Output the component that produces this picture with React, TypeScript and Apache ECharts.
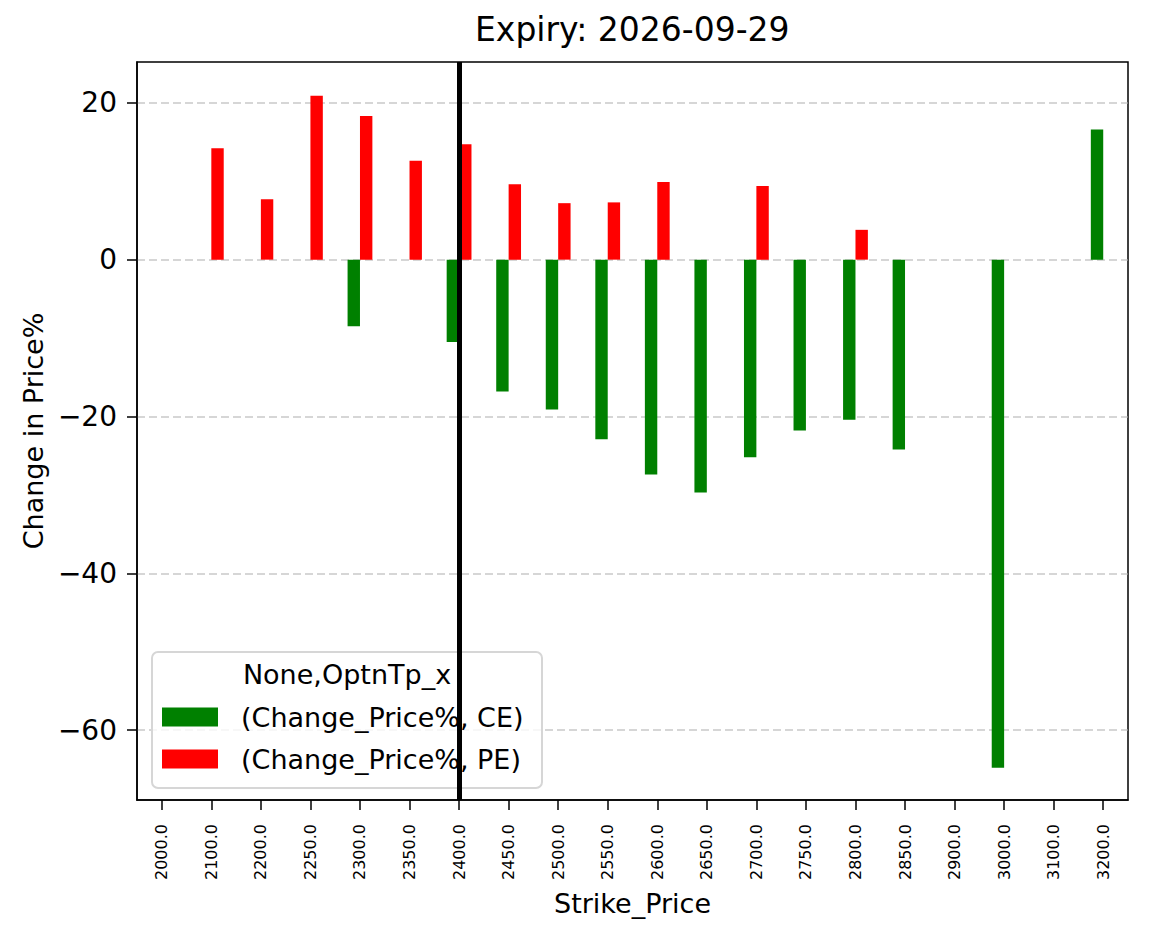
import React, { useEffect, useRef } from 'react';
import * as echarts from 'echarts';

// 行权价（类目）
const strikes = [
  '2000.0', '2100.0', '2200.0', '2250.0', '2300.0', '2350.0', '2400.0', '2450.0', '2500.0', '2550.0',
  '2600.0', '2650.0', '2700.0', '2750.0', '2800.0', '2850.0', '2900.0', '3000.0', '3100.0', '3200.0',
];
// (Change_Price%, CE)
const ceValues = [
  null, null, null, null, -8.5, null, -10.5, -16.8, -19.1, -22.9,
  -27.4, -29.7, -25.2, -21.8, -20.4, -24.2, null, -64.8, null, 16.6,
];
// (Change_Price%, PE)
const peValues = [
  null, 14.2, 7.7, 20.9, 18.3, 12.6, 14.7, 9.6, 7.2, 7.3,
  9.9, null, 9.4, null, 3.8, null, null, null, null, null,
];
const yTicks = [-60, -40, -20, 0, 20];
const yMin = -68.9;
const yMax = 25.2;
const spotStrike = '2400.0';

const FONT = 'DejaVu Sans';

const App = () => {
  const chartRef = useRef<HTMLDivElement>(null);

  useEffect(() => {
    document.body.style.margin = '0';
    if (!chartRef.current) return;
    const chart = echarts.init(chartRef.current, null, { renderer: 'svg' });

    chart.setOption({
      animation: false,
      backgroundColor: '#fff',
      textStyle: { fontFamily: FONT },
      title: {
        text: 'Expiry: 2026-09-29',
        left: 475,
        top: 13,
        padding: 0,
        textStyle: { fontFamily: FONT, fontSize: 33, fontWeight: 'normal', color: '#000' },
      },
      grid: {
        left: 137,
        top: 62,
        right: 21,
        bottom: 139,
        show: true,
        borderColor: '#000',
        borderWidth: 1.5,
        containLabel: false,
      },
      legend: {
        orient: 'vertical',
        left: 162,
        top: 703,
        padding: 0,
        itemWidth: 56,
        itemHeight: 19,
        itemGap: 14,
        icon: 'rect',
        data: ['(Change_Price%, CE)', '(Change_Price%, PE)'],
        textStyle: {
          fontFamily: FONT,
          fontSize: 27,
          color: '#000',
          lineHeight: 28,
          padding: [0, 0, 0, 18],
        },
        z: 4,
      },
      graphic: [
        {
          type: 'rect',
          z: 3,
          shape: { x: 152, y: 652, width: 390, height: 136, r: 6 },
          style: { fill: 'rgba(255,255,255,0.8)', stroke: '#d6d6d6', lineWidth: 2 },
        },
        {
          type: 'text',
          z: 4,
          x: 347,
          y: 674,
          style: {
            text: 'None,OptnTp_x',
            font: `27px "${FONT}"`,
            fill: '#000',
            textAlign: 'center',
            textVerticalAlign: 'middle',
          },
        },
      ],
      xAxis: {
        type: 'category',
        data: strikes,
        name: 'Strike_Price',
        nameLocation: 'middle',
        nameGap: 90,
        nameTextStyle: { fontFamily: FONT, fontSize: 27, color: '#000' },
        axisLine: { show: true, onZero: false, lineStyle: { color: '#000', width: 1.5 } },
        axisTick: {
          show: true,
          alignWithLabel: true,
          interval: 0,
          length: 10,
          lineStyle: { color: '#000', width: 1.5 },
        },
        axisLabel: {
          rotate: 90,
          interval: 0,
          fontSize: 16,
          color: '#000',
          fontFamily: FONT,
          margin: 24,
        },
        splitLine: { show: false },
      },
      yAxis: {
        type: 'value',
        min: yMin,
        max: yMax,
        name: 'Change in Price%',
        nameLocation: 'middle',
        nameGap: 90,
        nameTextStyle: { fontFamily: FONT, fontSize: 27, color: '#000' },
        axisLine: { show: true, lineStyle: { color: '#000', width: 1.5 } },
        axisTick: {
          show: true,
          length: 10,
          customValues: yTicks,
          lineStyle: { color: '#000', width: 1.5 },
        },
        axisLabel: {
          customValues: yTicks,
          fontSize: 28,
          color: '#000',
          fontFamily: FONT,
          margin: 20,
          formatter: (v: number) => String(v).replace('-', '\u2212'),
        },
        splitLine: {
          show: true,
          lineStyle: { color: 'rgba(176,176,176,0.7)', type: [8, 4], width: 1.5 },
        },
      },
      series: [
        {
          name: '(Change_Price%, CE)',
          type: 'bar',
          data: ceValues,
          barWidth: 12.4,
          barGap: '0%',
          itemStyle: { color: '#008000' },
          z: 2,
        },
        {
          name: '(Change_Price%, PE)',
          type: 'bar',
          data: peValues,
          barWidth: 12.4,
          barGap: '0%',
          itemStyle: { color: '#ff0000' },
          z: 2,
        },
        {
          // 现价竖线（放在独立的折线系列上，避免柱偏移）
          name: 'spot',
          type: 'line',
          data: strikes.map(() => null),
          symbol: 'none',
          silent: true,
          markLine: {
            silent: true,
            symbol: 'none',
            z: 10,
            label: { show: false },
            lineStyle: { color: '#000', width: 5, type: 'solid' },
            data: [{ xAxis: spotStrike }],
          },
        },
      ],
    });

    return () => {
      chart.dispose();
    };
  }, []);

  return <div ref={chartRef} style={{ width: 1149, height: 939 }} />;
};

export default App;
